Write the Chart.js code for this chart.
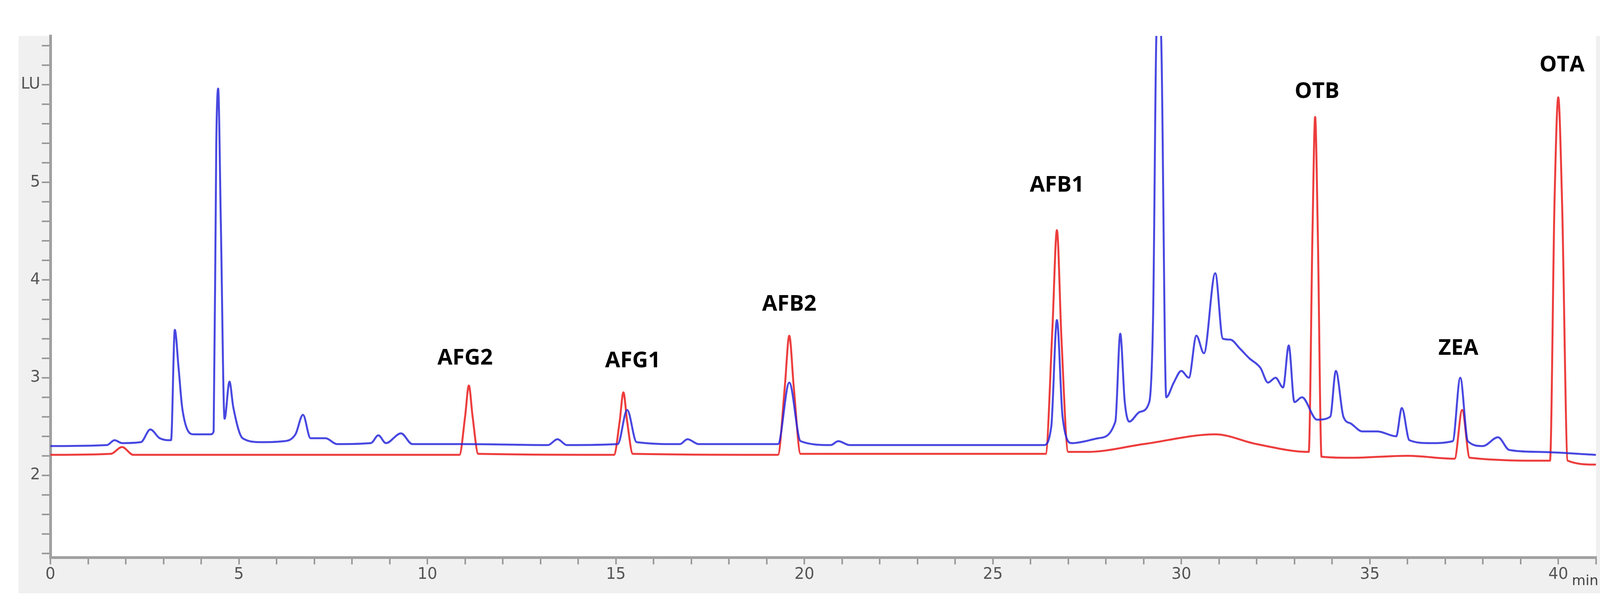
<!DOCTYPE html>
<html><head><meta charset="utf-8">
<script src="https://cdn.jsdelivr.net/npm/chart.js@4"></script>
<style>html,body{margin:0;background:#fff;overflow:hidden}#wrap{width:100vw;height:100vh;position:relative}</style>
</head><body><div id="wrap"><canvas id="c"></canvas></div>
<script>
// retention time (min) / signal (LU)
const blueTime = [0,1.5,1.7,1.9,2.4,2.65,2.9,3.2,3.3,3.4,3.5,3.8,4.25,4.33,4.4,4.45,4.52,4.62,4.75,4.85,5.1,5.6,6.2,6.5,6.7,6.9,7.3,7.6,8.5,8.7,8.9,9.3,9.6,11,13.2,13.45,13.7,15.05,15.3,15.55,16.7,16.9,17.2,19.3,19.6,19.9,20.7,20.9,21.2,26.35,26.55,26.7,26.85,27.1,27.8,28.25,28.38,28.5,28.62,28.9,29.15,29.25,29.35,29.45,29.6,29.8,30.0,30.2,30.4,30.6,30.9,31.1,31.3,31.55,31.8,32.1,32.3,32.5,32.7,32.85,33.0,33.2,33.6,33.95,34.1,34.3,34.5,34.8,35.2,35.7,35.85,36.05,36.6,37.2,37.4,37.6,38.0,38.4,38.7,39.5,41];
const blueVal  = [2.30,2.31,2.36,2.33,2.34,2.47,2.38,2.36,3.49,3.1,2.68,2.42,2.42,2.45,5.4,5.96,4.6,2.58,2.96,2.7,2.38,2.34,2.35,2.42,2.62,2.38,2.38,2.32,2.33,2.41,2.33,2.43,2.32,2.32,2.31,2.37,2.31,2.32,2.67,2.34,2.32,2.37,2.32,2.32,2.95,2.35,2.31,2.35,2.31,2.31,2.5,3.59,2.6,2.33,2.38,2.55,3.45,2.75,2.55,2.65,2.75,3.6,6.6,6.6,2.8,2.95,3.07,3.0,3.43,3.25,4.07,3.4,3.39,3.3,3.2,3.1,2.95,3.0,2.9,3.33,2.75,2.8,2.57,2.6,3.07,2.6,2.53,2.45,2.45,2.4,2.69,2.36,2.33,2.35,3.0,2.35,2.3,2.39,2.26,2.24,2.21];
const redTime  = [0,1.6,1.9,2.2,10.85,11.0,11.1,11.2,11.35,14.95,15.1,15.2,15.3,15.45,19.3,19.48,19.6,19.72,19.9,26.4,26.58,26.7,26.82,27.0,27.5,29,30.9,32,33.38,33.48,33.55,33.62,33.72,34.5,36.0,37.25,37.45,37.65,39.78,39.9,40.0,40.1,40.25,41];
const redVal   = [2.21,2.22,2.29,2.21,2.21,2.6,2.92,2.6,2.22,2.21,2.55,2.85,2.55,2.22,2.21,2.9,3.43,2.9,2.22,2.22,3.5,4.51,3.4,2.24,2.24,2.32,2.42,2.32,2.24,4.5,5.67,4.5,2.19,2.18,2.2,2.17,2.67,2.18,2.15,4.8,5.87,4.8,2.15,2.11];
const peakNames = ["AFG2","AFG1","AFB2","AFB1","OTB","ZEA","OTA"];
const peakTime  = [11.0,15.45,19.6,26.7,33.6,37.35,40.1];
const peakLabelY = [3.2,3.17,3.75,4.97,5.93,3.3,6.2];
const xLabels = [0,5,10,15,20,25,30,35,40];
const yLabels = [2,3,4,5];

const W = window.innerWidth, H = window.innerHeight;
const sx = W / 5173, sy = H / 1550;
const toXY = (t, v) => t.map((x, i) => ({x: x, y: v[i]}));

const bgPlugin = {
  id: "bg",
  beforeDraw(chart) {
    const c = chart.ctx, a = chart.chartArea;
    c.save();
    c.fillStyle = "#f0f0f0";
    c.fillRect(60 * sx, 92 * sy, chart.width, 1428 * sy);
    c.fillStyle = "#ffffff";
    c.fillRect(a.left, a.top, a.right - a.left, a.bottom - a.top);
    c.restore();
  },
  afterDraw(chart) {
    const c = chart.ctx, xs = chart.scales.x, ys = chart.scales.y;
    c.save();
    c.fillStyle = "#000";
    c.font = "bold " + Math.round(56 * sy) + "px 'Open Sans', sans-serif";
    c.textAlign = "center";
    c.textBaseline = "middle";
    peakNames.forEach((n, i) => c.fillText(n, xs.getPixelForValue(peakTime[i]), ys.getPixelForValue(peakLabelY[i])));
    c.font = Math.round(36 * sy) + "px 'DejaVu Sans', sans-serif";
    c.fillStyle = "#444";
    c.fillText("min", 5125 * sx, 1490 * sy);
    c.restore();
  }
};

new Chart(document.getElementById("c"), {
  type: "line",
  data: {
    datasets: [
      { data: toXY(blueTime, blueVal), borderColor: "rgba(40,40,220,0.85)", borderWidth: 5 * sy, pointRadius: 0, cubicInterpolationMode: "monotone" },
      { data: toXY(redTime, redVal), borderColor: "rgba(235,40,40,0.9)", borderWidth: 5 * sy, pointRadius: 0, cubicInterpolationMode: "monotone" }
    ]
  },
  options: {
    responsive: true, maintainAspectRatio: false, animation: false,
    layout: { padding: { left: 60 * sx, top: 92 * sy, right: 13 * sx, bottom: 30 * sy } },
    plugins: { legend: { display: false }, tooltip: { enabled: false } },
    scales: {
      x: {
        type: "linear", min: 0, max: 41,
        afterFit: (s) => { s.height = 92 * sy; },
        afterBuildTicks: (s) => { s.ticks = []; for (let i = 0; i <= 41; i++) s.ticks.push({ value: i }); },
        border: { color: "#a0a0a0", width: 7 * sy },
        grid: { drawOnChartArea: false, tickLength: 18 * sy, color: "#999", lineWidth: 4 * sy },
        ticks: { autoSkip: false, maxRotation: 0, color: "#555", font: { size: 40 * sy, family: "'DejaVu Sans', sans-serif" },
          callback: (v) => xLabels.includes(v) ? String(v) : "" }
      },
      y: {
        type: "linear", min: 1.16, max: 6.5,
        afterFit: (s) => { s.width = 103 * sx; },
        afterBuildTicks: (s) => { s.ticks = []; for (let i = 6; i <= 32; i++) s.ticks.push({ value: Math.round(i * 2) / 10 }); },
        border: { color: "#a0a0a0", width: 7 * sy },
        grid: { drawOnChartArea: false, tickLength: 22 * sy, color: "#999", lineWidth: 4 * sy },
        ticks: { autoSkip: false, color: "#555", padding: 4, font: { size: 40 * sy, family: "'DejaVu Sans', sans-serif" },
          callback: (v) => yLabels.includes(v) ? String(v) : (v === 6 ? "LU" : "") }
      }
    }
  },
  plugins: [bgPlugin]
});
</script></body></html>
